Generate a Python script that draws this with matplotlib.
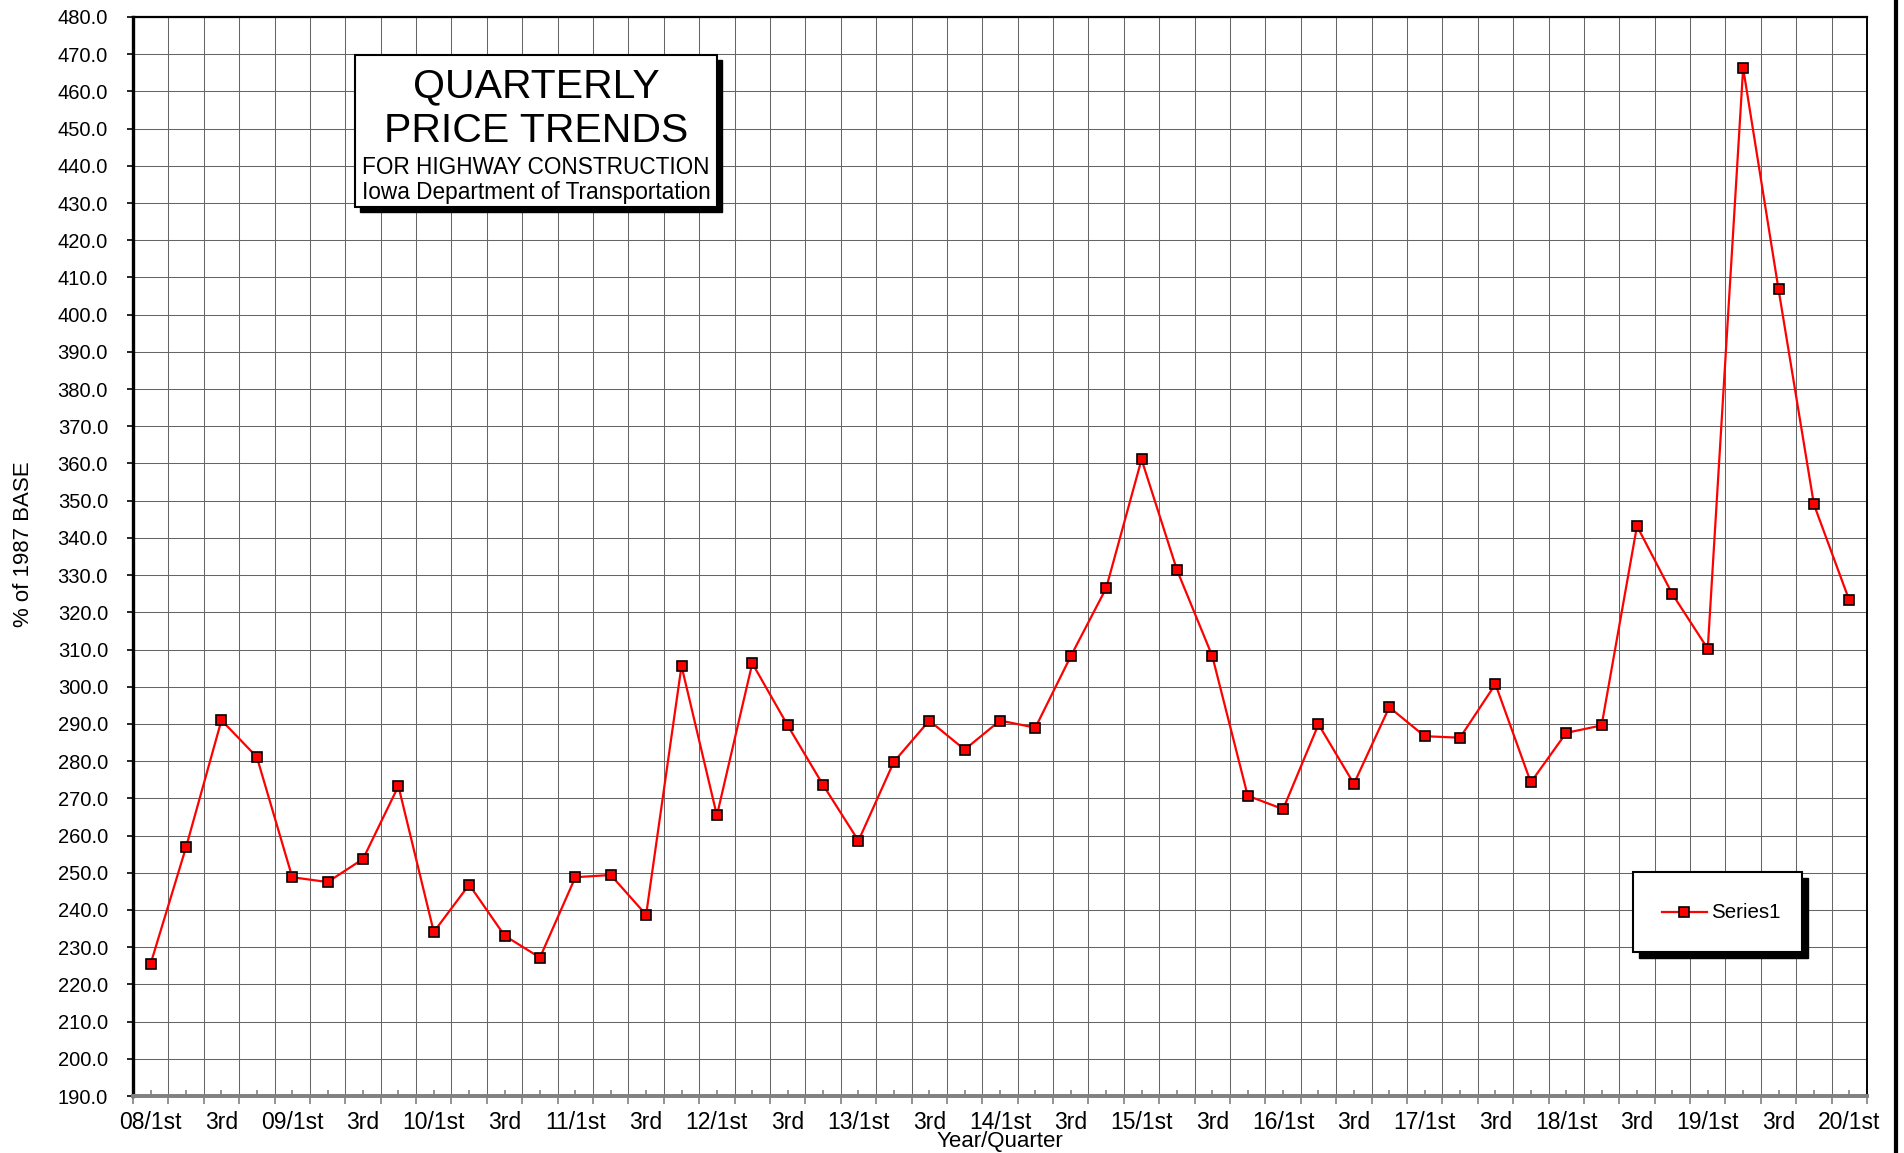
import matplotlib
matplotlib.use('Agg')
import matplotlib.pyplot as plt
from matplotlib.patches import Rectangle
from matplotlib.lines import Line2D
import numpy as np

plt.rcParams['font.family'] = ['Liberation Sans', 'DejaVu Sans']

# ---- data ----
shown_labels = ['08/1st', '3rd', '09/1st', '3rd', '10/1st', '3rd', '11/1st', '3rd',
                '12/1st', '3rd', '13/1st', '3rd', '14/1st', '3rd', '15/1st', '3rd',
                '16/1st', '3rd', '17/1st', '3rd', '18/1st', '3rd', '19/1st', '3rd',
                '20/1st']
values = [225.6, 256.9, 291.0, 281.1, 248.8, 247.5, 253.7, 273.3,
          234.1, 246.8, 233.1, 227.2, 248.8, 249.4, 238.7, 305.6,
          265.4, 306.3, 289.6, 273.6, 258.6, 279.8, 290.9, 283.1,
          290.9, 289.0, 308.2, 326.5, 361.1, 331.4, 308.2, 270.7,
          267.1, 289.9, 273.9, 294.5, 286.7, 286.3, 300.7, 274.3,
          287.6, 289.6, 343.2, 324.9, 310.2, 466.3, 406.8, 349.0,
          323.2]
series_name = 'Series1'
y_ticks = list(range(190, 481, 10))

W, H = 1904, 1153
fig = plt.figure(figsize=(W / 100, H / 100), dpi=100)
ax = fig.add_axes([133 / W, 1 - 1096 / H, (1867 - 133) / W, (1096 - 17) / H])

n = len(values)
x = np.arange(1, n + 1)
ax.plot(x, values, color='#ff0000', lw=1.6, marker='s', ms=7.5, mfc='#ff0000',
        mec='black', mew=1.2, zorder=5, clip_on=False)

ax.set_xlim(0.5, n + 0.5)
ax.set_ylim(190, 480)

# y axis
ax.set_yticks(y_ticks)
ax.set_yticklabels([f'{v:.1f}' for v in y_ticks], fontsize=14.5)
ax.tick_params(axis='y', direction='out', length=4, width=1.2, color='black', pad=14)

# x axis: major ticks at category boundaries, minor at centres (labels)
ax.set_xticks(np.arange(0.5, n + 1, 1.0))
ax.set_xticklabels([])
cat_labels = []
for i in range(n):
    cat_labels.append(shown_labels[i // 2] if i % 2 == 0 else '')
ax.set_xticks(x, minor=True)
ax.set_xticklabels(cat_labels, minor=True, fontsize=16.5)
ax.tick_params(axis='x', which='major', direction='out', length=6, width=1.2, color='#808080')
ax.tick_params(axis='x', which='minor', direction='in', length=4, width=1.2, color='#808080', pad=11)

ax.grid(which='major', color='#666666', lw=0.75)
ax.set_axisbelow(True)

for s in ['top', 'right']:
    ax.spines[s].set_color('black')
ax.spines['top'].set_linewidth(1.6)
ax.spines['right'].set_linewidth(1.4)
ax.spines['left'].set_linewidth(2.4)
ax.spines['left'].set_color('black')
ax.spines['bottom'].set_linewidth(2.8)
ax.spines['bottom'].set_color('#808080')

fig.text(24 / W, 1 - 544 / H, '% of 1987 BASE', fontsize=16, rotation=90,
         ha='center', va='center')
fig.text(0.5 * (133 + 1867) / W, 1 - 1141 / H, 'Year/Quarter', fontsize=16,
         ha='center', va='center')

# title box
def px(xp, yp):
    return xp / W, 1 - yp / H

bx0, by0, bx1, by1 = 355, 55, 717, 207
sh = 5
fig.patches.append(Rectangle(px(bx0 + sh, by1 + sh), (bx1 - bx0) / W, (by1 - by0) / H,
                             transform=fig.transFigure, facecolor='black',
                             edgecolor='black', zorder=10))
fig.patches.append(Rectangle(px(bx0, by1), (bx1 - bx0) / W, (by1 - by0) / H,
                             transform=fig.transFigure, facecolor='white',
                             edgecolor='black', lw=1.5, zorder=11))
cx = (bx0 + bx1) / 2 / W
fig.text(cx, 1 - 97 / H, 'QUARTERLY', fontsize=29.5, ha='center', va='baseline', zorder=12)
fig.text(cx, 1 - 142 / H, 'PRICE TRENDS', fontsize=29.5, ha='center', va='baseline', zorder=12)
fig.text(cx, 1 - 174 / H, 'FOR HIGHWAY CONSTRUCTION', fontsize=16.3, ha='center', va='baseline', zorder=12)
fig.text(cx, 1 - 199 / H, 'Iowa Department of Transportation', fontsize=16.3, ha='center', va='baseline', zorder=12)

# legend box
lx0, ly0, lx1, ly1 = 1633, 872, 1802, 952
sh2 = 6
fig.patches.append(Rectangle(px(lx0 + sh2, ly1 + sh2), (lx1 - lx0) / W, (ly1 - ly0) / H,
                             transform=fig.transFigure, facecolor='black',
                             edgecolor='black', zorder=10))
fig.patches.append(Rectangle(px(lx0, ly1), (lx1 - lx0) / W, (ly1 - ly0) / H,
                             transform=fig.transFigure, facecolor='white',
                             edgecolor='black', lw=1.5, zorder=11))
ly = 1 - 912 / H
fig.lines.append(Line2D([1662 / W, 1707 / W], [ly, ly], transform=fig.transFigure,
                        color='#ff0000', lw=1.6, zorder=12))
fig.lines.append(Line2D([1684 / W], [ly], transform=fig.transFigure, marker='s', ms=7.5,
                        mfc='#ff0000', mec='black', mew=1.2, color='#ff0000', zorder=13))
fig.text(1711 / W, ly, series_name, fontsize=14.8, ha='left', va='center', zorder=12)

# outer right border line
fig.lines.append(Line2D([1896 / W, 1896 / W], [0, 1], transform=fig.transFigure,
                        color='black', lw=3, zorder=20))

fig.savefig('out.png', dpi=100)
